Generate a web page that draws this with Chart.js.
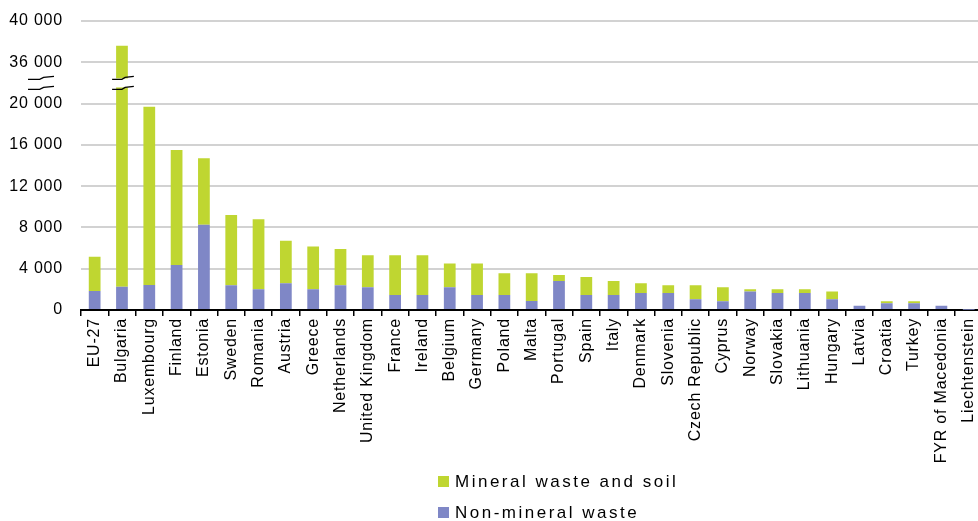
<!DOCTYPE html>
<html>
<head>
<meta charset="utf-8">
<script src="https://cdn.jsdelivr.net/npm/chart.js@4.4.0/dist/chart.umd.min.js"></script>
<style>
  html, body { margin: 0; padding: 0; background: #fff; overflow: hidden; }
  #wrap { position: relative; width: 990px; height: 521px; }
  #legend {
    position: absolute; left: 438px; top: 466px;
    font: 17px "Liberation Sans", Arial, sans-serif; letter-spacing: 2.5px; color: #000;
  }
  #legend .item { display: flex; align-items: center; height: 31px; }
  #legend .box { width: 11px; height: 11px; margin-right: 6px; }
</style>
</head>
<body>
<div id="wrap">
  <canvas id="wasteChart" width="990" height="521"></canvas>
  <div id="legend"></div>
</div>
<script>
const countries = ['EU-27', 'Bulgaria', 'Luxembourg', 'Finland', 'Estonia', 'Sweden', 'Romania',
  'Austria', 'Greece', 'Netherlands', 'United Kingdom', 'France', 'Ireland', 'Belgium', 'Germany',
  'Poland', 'Malta', 'Portugal', 'Spain', 'Italy', 'Denmark', 'Slovenia', 'Czech Republic', 'Cyprus',
  'Norway', 'Slovakia', 'Lithuania', 'Hungary', 'Latvia', 'Croatia', 'Turkey', 'FYR of Macedonia',
  'Liechtenstein'];

// kg per inhabitant
const nonMineral = [1840, 2260, 2430, 4370, 8250, 2400, 2000, 2600, 2000, 2400, 2200, 1450, 1450,
  2200, 1450, 1450, 870, 2800, 1450, 1450, 1650, 1650, 1050, 850, 1800, 1650, 1650, 1050, 400,
  650, 650, 400, 20];
const mineral = [3330, 35340, 17270, 11130, 6450, 6800, 6800, 4100, 4150, 3500, 3100, 3850, 3850,
  2300, 3050, 2100, 2680, 600, 1750, 1350, 950, 750, 1350, 1350, 200, 350, 350, 750, 0,
  200, 200, 0, 0];

const yTickLabels = ['0', '4 000', '8 000', '12 000', '16 000', '20 000', '36 000', '40 000'];

// broken axis: everything above the break is pulled down by the gap
const breakAt = 22000;
const gap = 12000;
function toAxis(v) { return v > breakAt ? v - gap : v; }

const green = '#bfd631';
const blue = '#7f87c6';

const mineralOnAxis = mineral.map((m, i) => toAxis(nonMineral[i] + m) - toAxis(nonMineral[i]));

Chart.defaults.font.family = '"Liberation Sans", Arial, sans-serif';
Chart.defaults.color = '#000';

const letterSpacing = {
  id: 'letterSpacing',
  beforeUpdate(chart) { chart.ctx.letterSpacing = '0.8px'; },
  beforeDraw(chart) { chart.ctx.letterSpacing = '0.8px'; }
};

function squiggle(ctx, x0, x1, y) {
  const w = x1 - x0;
  ctx.beginPath();
  ctx.moveTo(x0, y + 1.5);
  ctx.lineTo(x0 + w * 0.45, y + 1.5);
  ctx.lineTo(x0 + w * 0.6, y - 0.5);
  ctx.lineTo(x1, y - 1.5);
  ctx.stroke();
}

// break marks on the y axis and across the tall bar
const axisBreak = {
  id: 'axisBreak',
  afterDatasetsDraw(chart) {
    const { ctx, scales: { y } } = chart;
    const yb = y.getPixelForValue(breakAt);
    ctx.save();
    ctx.letterSpacing = '0px';
    ctx.strokeStyle = '#000';
    ctx.lineWidth = 1.3;

    chart.getDatasetMeta(1).data.forEach((bar, i) => {
      const total = nonMineral[i] + mineral[i];
      if (total <= breakAt) return;
      const left = bar.x - bar.width / 2;
      const right = bar.x + bar.width / 2;
      ctx.fillStyle = '#fff';
      ctx.fillRect(left - 1, yb - 4.5, right - left + 2, 9);
      squiggle(ctx, left - 4, right + 6, yb - 5);
      squiggle(ctx, left - 4, right + 6, yb + 5);
    });

    squiggle(ctx, 28, 54, yb - 5);
    squiggle(ctx, 28, 54, yb + 5);
    ctx.restore();
  }
};

const chart = new Chart(document.getElementById('wasteChart'), {
  type: 'bar',
  data: {
    labels: countries,
    datasets: [
      { label: 'Non-mineral waste', data: nonMineral, backgroundColor: blue },
      { label: 'Mineral waste and soil', data: mineralOnAxis, backgroundColor: green }
    ]
  },
  options: {
    responsive: false,
    animation: false,
    layout: { padding: { top: 21, right: 6, left: 0, bottom: 0 } },
    plugins: { legend: { display: false }, tooltip: { enabled: false } },
    datasets: { bar: { barPercentage: 0.43, categoryPercentage: 1 } },
    scales: {
      x: {
        stacked: true,
        afterFit(scale) { scale.height = 211; },
        grid: { drawOnChartArea: false, drawTicks: true, tickLength: 6, color: '#000', lineWidth: 1.5 },
        border: { display: true, color: '#000', width: 2 },
        ticks: { autoSkip: false, minRotation: 90, maxRotation: 90, padding: 2, font: { size: 16 } }
      },
      y: {
        stacked: true,
        min: 0,
        max: 28000,
        afterFit(scale) {
          scale.width = 81;
          // tick padding only pushes labels away from the plot, not down from the top
          scale.paddingTop = 9;
          scale.paddingBottom = 9;
        },
        grid: { color: '#d2d2d2', lineWidth: 2, drawTicks: false },
        border: { display: false },
        ticks: {
          stepSize: 4000,
          padding: 18,
          font: { size: 16 },
          callback: (v, i) => yTickLabels[i]
        }
      }
    }
  },
  plugins: [letterSpacing, axisBreak]
});

// legend stacked vertically, top series first
const legend = document.getElementById('legend');
chart.data.datasets.slice().reverse().forEach(ds => {
  const item = document.createElement('div');
  item.className = 'item';
  const box = document.createElement('span');
  box.className = 'box';
  box.style.background = ds.backgroundColor;
  const text = document.createElement('span');
  text.textContent = ds.label;
  item.appendChild(box);
  item.appendChild(text);
  legend.appendChild(item);
});
</script>
</body>
</html>
